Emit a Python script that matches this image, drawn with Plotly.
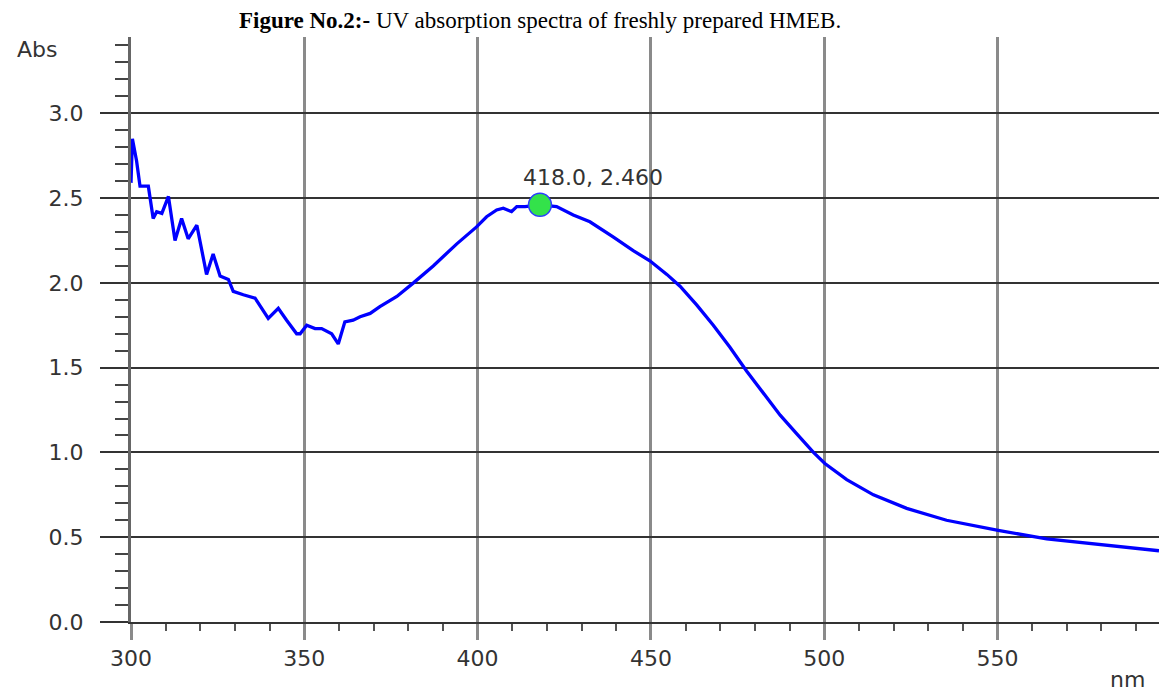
import plotly.graph_objects as go

# wavelength (nm) and absorbance
wavelength = [300.0, 300.4, 301.6, 302.6, 305.0, 306.4, 307.4, 308.9, 310.8, 312.7,
              314.6, 316.5, 319.0, 321.4, 321.8, 323.7, 325.7, 328.1, 329.5, 332.4,
              335.8, 339.6, 342.5, 344.9, 347.8, 348.8, 350.7, 353.1, 355.0, 357.9,
              359.8, 361.7, 364.1, 366.1, 369.0, 371.8, 376.7, 381.5, 387.2, 394.0,
              399.7, 402.6, 405.5, 407.4, 409.8, 411.3, 413.7, 418.0, 422.8, 427.6,
              432.4, 439.2, 444.9, 449.7, 454.6, 458.4, 463.2, 468.0, 472.8, 477.6,
              482.4, 487.3, 492.1, 496.9, 500.2, 506.5, 514.2, 523.8, 535.3, 550.2,
              564.2, 578.6, 596.6]
absorbance = [2.59, 2.85, 2.72, 2.57, 2.57, 2.38, 2.42, 2.41, 2.51, 2.25,
              2.38, 2.26, 2.34, 2.08, 2.05, 2.17, 2.04, 2.02, 1.95, 1.93,
              1.91, 1.79, 1.85, 1.78, 1.70, 1.70, 1.75, 1.73, 1.73, 1.70,
              1.64, 1.77, 1.78, 1.80, 1.82, 1.86, 1.92, 2.00, 2.10, 2.23,
              2.33, 2.39, 2.43, 2.44, 2.42, 2.45, 2.45, 2.46, 2.45, 2.40,
              2.36, 2.27, 2.19, 2.13, 2.05, 1.98, 1.87, 1.75, 1.62, 1.48,
              1.35, 1.22, 1.11, 1.00, 0.935, 0.84, 0.75, 0.67, 0.60, 0.54,
              0.49, 0.46, 0.42]

peak_x = [418.0]
peak_y = [2.460]
peak_label = "418.0, 2.460"

x_range = [300, 596.6]
y_range = [0, 3.45]

LABEL_FONT = dict(family="DejaVu Sans", size=22, color="#333333")

fig = go.Figure()
fig.add_trace(go.Scatter(x=wavelength, y=absorbance, mode="lines",
                         line=dict(color="#0000ff", width=3.3), showlegend=False,
                         hoverinfo="skip"))
fig.add_trace(go.Scatter(x=peak_x, y=peak_y, mode="markers",
                         marker=dict(color="#33e24a", size=23,
                                     line=dict(color="#2b3cff", width=1.5)),
                         showlegend=False))

fig.add_annotation(x=peak_x[0], y=peak_y[0], text=peak_label, showarrow=False,
                   xanchor="left", yanchor="middle", xshift=-19, yshift=27,
                   font=LABEL_FONT)
fig.add_annotation(x=-0.0914, y=0.978, xref="paper", yref="paper", text="Abs",
                   showarrow=False, xanchor="center", yanchor="middle",
                   font=LABEL_FONT)
fig.add_annotation(x=0.969, y=-0.0975, xref="paper", yref="paper", text="nm",
                   showarrow=False, xanchor="center", yanchor="middle",
                   font=LABEL_FONT)

fig.update_layout(
    width=1159, height=692,
    margin=dict(l=131, r=0, t=37, b=70, autoexpand=False),
    paper_bgcolor="white", plot_bgcolor="white",
    title=dict(text="<b>Figure No.2:-</b> UV absorption spectra of freshly prepared HMEB.",
               font=dict(family="Liberation Serif", size=23, color="black"),
               x=0.466, xanchor="center", y=1 - 20 / 692, yanchor="middle",
               yref="container"),
    xaxis=dict(range=x_range, tick0=300, dtick=50, showgrid=True,
               gridcolor="#8a8a8a", gridwidth=3,
               ticks="outside", ticklen=16, tickwidth=3, tickcolor="#8a8a8a",
               showline=True, linecolor="#333333", linewidth=2,
               zeroline=False, tickfont=LABEL_FONT,
               minor=dict(dtick=10, ticks="outside", ticklen=7, tickwidth=2,
                          tickcolor="#555555", showgrid=False)),
    yaxis=dict(range=y_range, tick0=0, dtick=0.5, tickformat=".1f",
               showgrid=True, gridcolor="#333333", gridwidth=1.5,
               ticks="outside", ticklen=28, tickwidth=1.5, tickcolor="#333333",
               showline=True, linecolor="#666666", linewidth=3,
               zeroline=False, tickfont=LABEL_FONT, ticklabelstandoff=12,
               minor=dict(dtick=0.1, ticks="outside", ticklen=13, tickwidth=2,
                          tickcolor="#444444", showgrid=False)),
)

fig.write_html("out.html")
